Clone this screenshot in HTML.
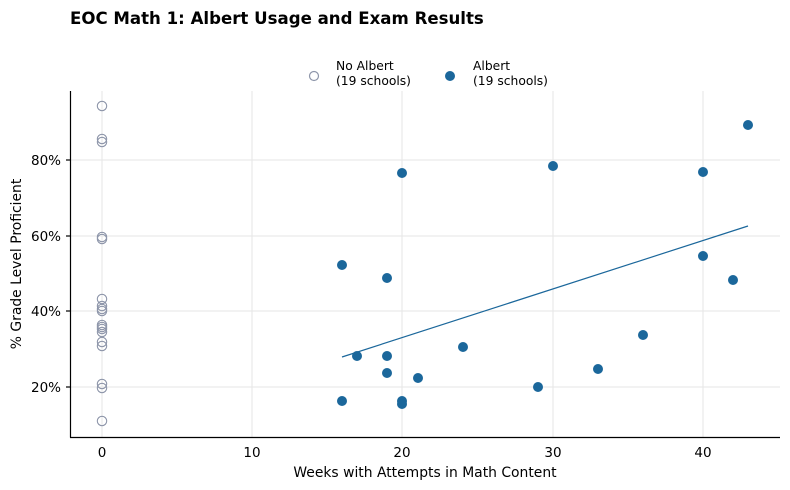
<!DOCTYPE html>
<html><head><meta charset="utf-8"><style>
html,body{margin:0;padding:0;background:#fff;}
svg{display:block;font-family:"DejaVu Sans","Liberation Sans",sans-serif;}
</style></head><body>
<svg width="790" height="490" viewBox="0 0 790 490" xmlns="http://www.w3.org/2000/svg">
<rect width="790" height="490" fill="#fff"/>
<text x="70" y="24" font-size="16.6" font-weight="bold" fill="#000">EOC Math 1: Albert Usage and Exam Results</text>
<!-- grid -->
<g stroke="#e5e5e5" stroke-width="1">
<line x1="102" y1="91" x2="102" y2="437"/>
<line x1="252" y1="91" x2="252" y2="437"/>
<line x1="402" y1="91" x2="402" y2="437"/>
<line x1="553" y1="91" x2="553" y2="437"/>
<line x1="703" y1="91" x2="703" y2="437"/>
<line x1="70" y1="160" x2="780" y2="160"/>
<line x1="70" y1="236" x2="780" y2="236"/>
<line x1="70" y1="311" x2="780" y2="311"/>
<line x1="70" y1="387" x2="780" y2="387"/>
</g>
<!-- spines -->
<g stroke="#000" stroke-width="1.2">
<line x1="70.5" y1="91" x2="70.5" y2="437.5"/>
<line x1="70" y1="437.5" x2="780" y2="437.5"/>
<line x1="66" y1="160" x2="70" y2="160"/>
<line x1="66" y1="236" x2="70" y2="236"/>
<line x1="66" y1="311" x2="70" y2="311"/>
<line x1="66" y1="387" x2="70" y2="387"/>
</g>
<g font-size="13.5" fill="#000" text-anchor="end">
<text x="61" y="165">80%</text>
<text x="61" y="241">60%</text>
<text x="61" y="316">40%</text>
<text x="61" y="392">20%</text>
</g>
<g font-size="13.5" fill="#000" text-anchor="middle">
<text x="102" y="457">0</text>
<text x="252" y="457">10</text>
<text x="402" y="457">20</text>
<text x="553" y="457">30</text>
<text x="703" y="457">40</text>
</g>
<g font-size="13.9" fill="#000" text-anchor="middle">
<text x="425" y="477">Weeks with Attempts in Math Content</text>
<text transform="translate(21,264) rotate(-90)">% Grade Level Proficient</text>
</g>
<!-- legend -->
<circle cx="314" cy="76" r="4.5" fill="none" stroke="#8e96aa" stroke-width="1.2"/>
<text x="336" y="70" font-size="12.3" fill="#000">No Albert</text>
<text x="336" y="85" font-size="12.3" fill="#000">(19 schools)</text>
<circle cx="450" cy="76" r="5" fill="#1b679b"/>
<text x="473" y="70" font-size="12.3" fill="#000">Albert</text>
<text x="473" y="85" font-size="12.3" fill="#000">(19 schools)</text>
<!-- no albert -->
<g fill="none" stroke="#8e96aa" stroke-width="1.1">
<circle cx="102" cy="106" r="4.7"/>
<circle cx="102" cy="139" r="4.7"/>
<circle cx="102" cy="142" r="4.7"/>
<circle cx="102" cy="237" r="4.7"/>
<circle cx="102" cy="239" r="4.7"/>
<circle cx="102" cy="299" r="4.7"/>
<circle cx="102" cy="306" r="4.7"/>
<circle cx="102" cy="309" r="4.7"/>
<circle cx="102" cy="311" r="4.7"/>
<circle cx="102" cy="325" r="4.7"/>
<circle cx="102" cy="327" r="4.7"/>
<circle cx="102" cy="329" r="4.7"/>
<circle cx="102" cy="332" r="4.7"/>
<circle cx="102" cy="342" r="4.7"/>
<circle cx="102" cy="346" r="4.7"/>
<circle cx="102" cy="384" r="4.7"/>
<circle cx="102" cy="388" r="4.7"/>
<circle cx="102" cy="421" r="4.7"/>
</g>
<!-- trend -->
<line x1="342" y1="357" x2="748" y2="226" stroke="#1b679b" stroke-width="1.2"/>
<!-- albert -->
<g fill="#1b679b">
<circle cx="402" cy="173" r="5"/>
<circle cx="553" cy="166" r="5"/>
<circle cx="703" cy="172" r="5"/>
<circle cx="748" cy="125" r="5"/>
<circle cx="342" cy="265" r="5"/>
<circle cx="387" cy="278" r="5"/>
<circle cx="703" cy="256" r="5"/>
<circle cx="733" cy="280" r="5"/>
<circle cx="643" cy="335" r="5"/>
<circle cx="463" cy="347" r="5"/>
<circle cx="357" cy="356" r="5"/>
<circle cx="387" cy="356" r="5"/>
<circle cx="387" cy="373" r="5"/>
<circle cx="418" cy="378" r="5"/>
<circle cx="598" cy="369" r="5"/>
<circle cx="538" cy="387" r="5"/>
<circle cx="342" cy="401" r="5"/>
<circle cx="402" cy="401" r="5"/>
<circle cx="402" cy="404" r="5"/>
</g>
</svg>
</body></html>
